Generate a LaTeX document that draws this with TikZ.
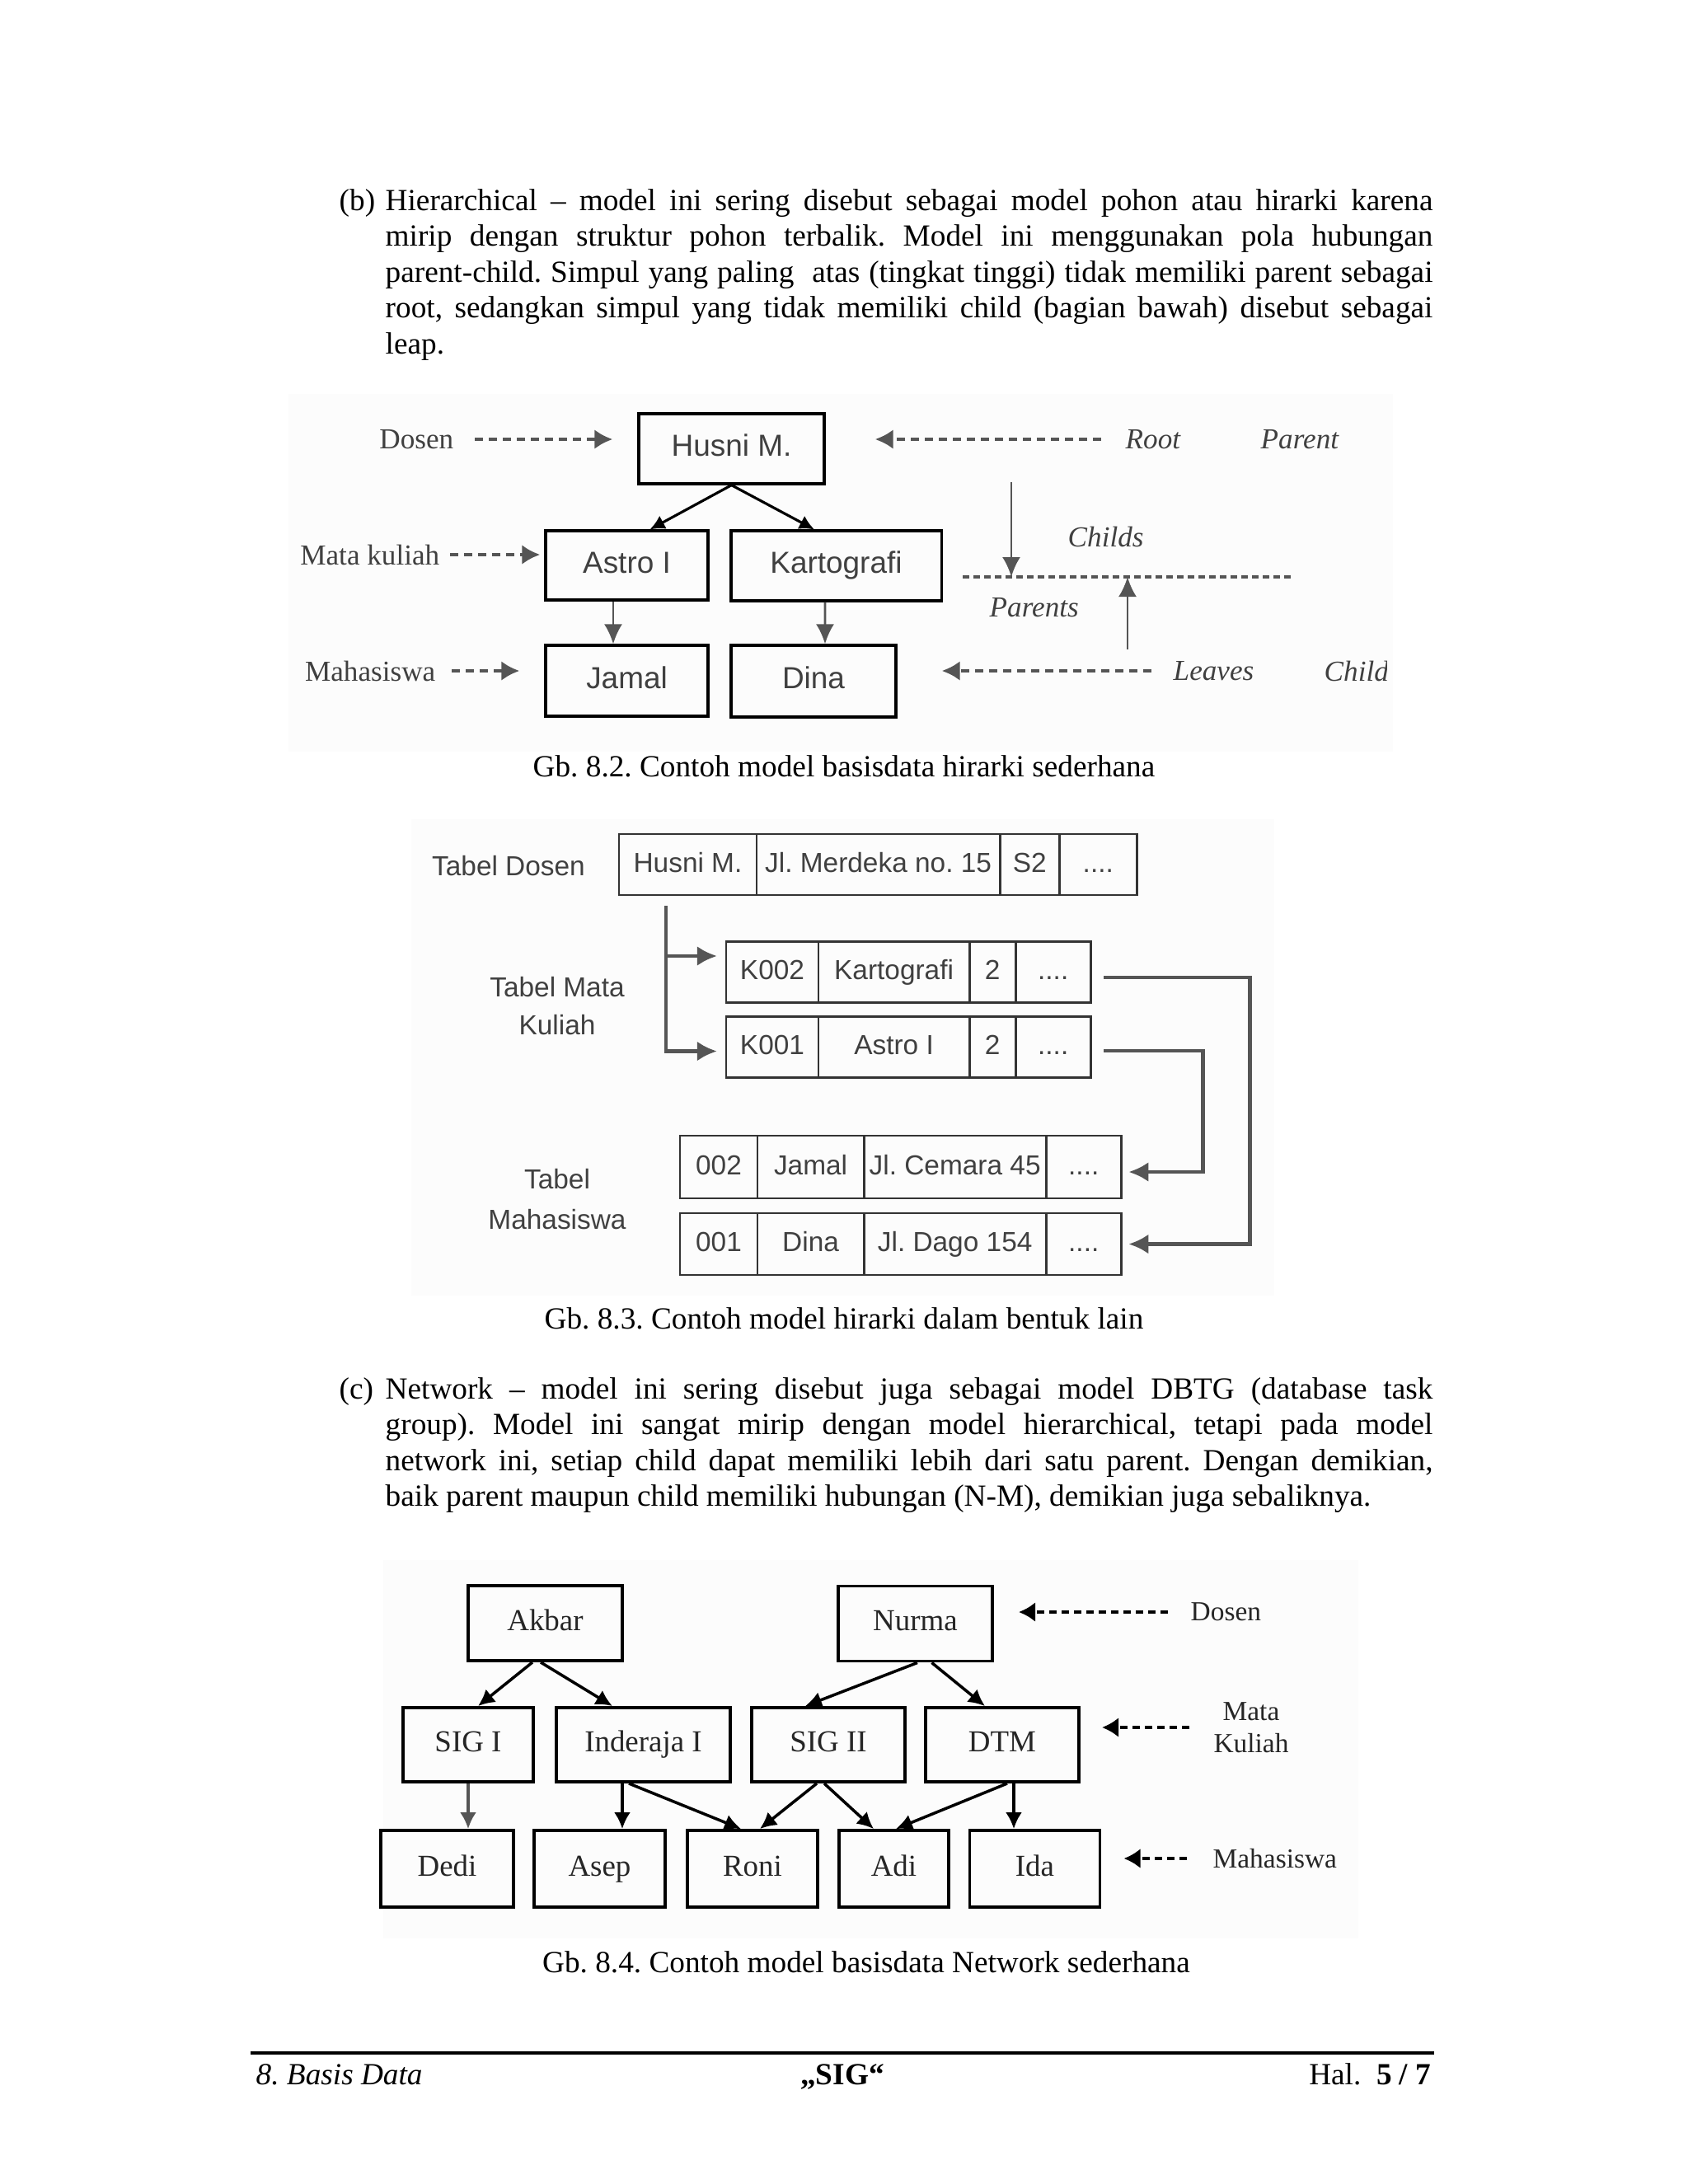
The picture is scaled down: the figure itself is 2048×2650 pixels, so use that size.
\documentclass[tikz,border=0pt]{standalone}
\usepackage{fontspec}
\setmainfont{Liberation Serif}
\setsansfont{Liberation Sans}
\usetikzlibrary{arrows.meta,positioning}
\frenchspacing

\definecolor{abu}{HTML}{555555}
\definecolor{teksabu}{HTML}{404040}
\definecolor{latar}{HTML}{FCFCFC}

% satu baris teks rata kiri-kanan
\newcommand{\baris}[1]{\makebox[12.70cm][s]{#1}}

\tikzset{
  teks/.style={inner sep=0pt, font=\fontsize{10.6}{12.4}\selectfont},
  kotaksatu/.style={draw, line width=0.9pt, inner sep=0pt, text height=0.72em, text depth=0.2em, font=\sffamily\fontsize{10.5}{12}\selectfont, text=teksabu},
  labelsatu/.style={inner sep=0pt, font=\fontsize{10}{12}\selectfont, text=teksabu},
  miring/.style={inner sep=0pt, font=\itshape\fontsize{10}{12}\selectfont, text=teksabu},
  panahhitam/.style={line width=0.9pt, -{Latex[length=0.18cm,width=0.18cm]}},
  panahabu/.style={abu, line width=0.8pt, -{Latex[length=0.24cm,width=0.22cm]}},
  putusabu/.style={abu, line width=1.3pt, dash pattern=on 0.1cm off 0.07cm, -{Latex[length=0.22cm,width=0.24cm]}},
  sel/.style={draw=black!80, line width=0.8pt, inner sep=0pt, outer sep=0pt, minimum height=0.74cm, text height=0.72em, text depth=0.2em, font=\sffamily\fontsize{9.5}{11}\selectfont, text=teksabu},
  labeltabel/.style={inner sep=0pt, font=\sffamily\fontsize{9.5}{13.1}\selectfont, text=teksabu},
  panahtabel/.style={abu, line width=1.4pt, -{Latex[length=0.24cm,width=0.24cm]}},
  kotaktiga/.style={draw, line width=1.1pt, inner sep=0pt, text height=0.7em, text depth=0.2em, font=\fontsize{10.5}{12}\selectfont, text=black!85},
  panahtiga/.style={line width=1pt, -{Latex[length=0.2cm,width=0.2cm]}},
  labeltiga/.style={inner sep=0pt, font=\fontsize{9.5}{11.1}\selectfont, text=black!85},
  putushitam/.style={line width=1.1pt, dash pattern=on 0.09cm off 0.06cm, -{Latex[length=0.2cm,width=0.24cm]}},
}

\begin{document}
\begin{tikzpicture}[x=0.01cm,y=-0.01cm]
  \useasboundingbox (0,0) rectangle (2048,2650);

  % paragraf (b)
  \node[teks, anchor=base west] (pb) at (411,255) {(b)};
  \node[teks, anchor=base west] (b1) at (467,255) {\baris{Hierarchical – model ini sering disebut sebagai model pohon atau hirarki karena}};
  \node[teks, anchor=base west] (b2) at (467,298.5) {\baris{mirip dengan struktur pohon terbalik. Model ini menggunakan pola hubungan}};
  \node[teks, anchor=base west] (b3) at (467,342) {\baris{parent-child. Simpul yang paling~ atas (tingkat tinggi) tidak memiliki parent sebagai}};
  \node[teks, anchor=base west] (b4) at (467,385.5) {\baris{root, sedangkan simpul yang tidak memiliki child (bagian bawah) disebut sebagai}};
  \node[teks, anchor=base west] (b5) at (467,429) {leap.};

  % gambar 8.2
  \fill[latar] (350,478) rectangle (1690,912);
  \node[kotaksatu, minimum width=2.25cm, minimum height=0.85cm] (husni) at (887.5,544.5) {Husni M.};
  \node[kotaksatu, minimum width=1.97cm, minimum height=0.84cm] (astro) at (760.5,686) {Astro I};
  \node[kotaksatu, minimum width=2.55cm, minimum height=0.85cm] (karto) at (1014.5,686.5) {Kartografi};
  \node[kotaksatu, minimum width=1.97cm, minimum height=0.86cm] (jamal) at (760.5,826) {Jamal};
  \node[kotaksatu, minimum width=2.00cm, minimum height=0.87cm] (dina) at (987,826.5) {Dina};

  \draw[panahhitam] (husni.south) -- ([xshift=0.28cm]astro.north);
  \draw[panahhitam] (husni.south) -- ([xshift=-0.265cm]karto.north);
  \draw[panahabu] ([xshift=-0.165cm]astro.south) -- ([xshift=-0.165cm]jamal.north);
  \draw[panahabu] ([xshift=-0.135cm]karto.south) -- ([xshift=0.14cm]dina.north);

  \node[labelsatu, anchor=east] (ldosen) at (551,533) {Dosen};
  \draw[putusabu, shorten <=0.25cm, shorten >=0.30cm] (ldosen.east) -- (ldosen.east -| husni.west);
  \node[labelsatu, anchor=east] (lmatkul) at (534,673) {Mata kuliah};
  \draw[putusabu, shorten <=0.12cm, shorten >=0.05cm] (lmatkul.east) -- (lmatkul.east -| astro.west);
  \node[labelsatu, anchor=east] (lmhs) at (529,814) {Mahasiswa};
  \draw[putusabu, shorten <=0.19cm, shorten >=0.30cm] (lmhs.east) -- (lmhs.east -| jamal.west);

  \node[miring, anchor=west] (lroot) at (1365,533) {Root};
  \draw[putusabu, shorten <=0.29cm, shorten >=0.60cm] (lroot.west) -- (lroot.west -| husni.east);
  \node[miring, anchor=west] (lparent) at (1529,533) {Parent};

  \coordinate (garisA) at (1168,700);
  \coordinate (garisB) at (1570,700);
  \draw[abu, line width=1.2pt, dash pattern=on 0.08cm off 0.05cm] (garisA) -- (garisB);
  \coordinate (turun) at (1227,585);
  \draw[panahabu] (turun) -- (turun |- garisA);
  \coordinate (naik) at (1368,788);
  \draw[panahabu] (naik) -- (naik |- garisA);
  \node[miring, anchor=west] (lchilds) at (1295,651) {Childs};
  \node[miring, anchor=west] (lparents) at (1200,737) {Parents};

  \node[miring, anchor=west] (lleaves) at (1423,814) {Leaves};
  \draw[putusabu, shorten <=0.26cm, shorten >=0.54cm] (lleaves.west) -- (lleaves.west -| dina.east);
  \begin{scope}
    \clip (1590,780) rectangle (1682,850);
    \node[miring, anchor=west] (lchild) at (1606,814) {Child};
  \end{scope}

  \node[teks] (cap1) at (1024,930) {Gb. 8.2. Contoh model basisdata hirarki sederhana};

  % gambar 8.3
  \fill[latar] (499,994) rectangle (1546,1572);
  \node[labeltabel] (ltdosen) at (617,1051) {Tabel Dosen};
  \node[labeltabel, align=center] (ltmatkul) at (676,1221) {Tabel Mata\\Kuliah};
  \node[labeltabel, align=center, font=\sffamily\fontsize{9.5}{13.9}\selectfont] (ltmhs) at (676,1455) {Tabel\\Mahasiswa};

  \node[sel, minimum width=1.67cm] (td1) at (834.5,1049) {Husni M.};
  \node[sel, minimum width=2.95cm, right=0pt of td1] (td2) {Jl. Merdeka no. 15};
  \node[sel, minimum width=0.72cm, right=0pt of td2] (td3) {S2};
  \node[sel, minimum width=0.94cm, right=0pt of td3] (td4) {....};

  \node[sel, minimum width=1.12cm] (ka1) at (937,1179.5) {K002};
  \node[sel, minimum width=1.83cm, right=0pt of ka1] (ka2) {Kartografi};
  \node[sel, minimum width=0.56cm, right=0pt of ka2] (ka3) {2};
  \node[sel, minimum width=0.91cm, right=0pt of ka3] (ka4) {....};

  \node[sel, minimum width=1.12cm] (kb1) at (937,1270.5) {K001};
  \node[sel, minimum width=1.83cm, right=0pt of kb1] (kb2) {Astro I};
  \node[sel, minimum width=0.56cm, right=0pt of kb2] (kb3) {2};
  \node[sel, minimum width=0.91cm, right=0pt of kb3] (kb4) {....};

  \node[sel, minimum width=0.94cm, minimum height=0.76cm] (mj1) at (872,1416) {002};
  \node[sel, minimum width=1.29cm, minimum height=0.76cm, right=0pt of mj1] (mj2) {Jamal};
  \node[sel, minimum width=2.21cm, minimum height=0.76cm, right=0pt of mj2] (mj3) {Jl. Cemara 45};
  \node[sel, minimum width=0.91cm, minimum height=0.76cm, right=0pt of mj3] (mj4) {....};

  \node[sel, minimum width=0.94cm, minimum height=0.75cm] (md1) at (872,1509.5) {001};
  \node[sel, minimum width=1.29cm, minimum height=0.75cm, right=0pt of md1] (md2) {Dina};
  \node[sel, minimum width=2.21cm, minimum height=0.75cm, right=0pt of md2] (md3) {Jl. Dago 154};
  \node[sel, minimum width=0.91cm, minimum height=0.75cm, right=0pt of md3] (md4) {....};

  \draw[panahtabel, shorten <=0.13cm, shorten >=0.11cm] ([xshift=-0.265cm]td1.south) |- ([yshift=0.195cm]ka1.west);
  \draw[panahtabel, shorten <=0.13cm, shorten >=0.11cm] ([xshift=-0.265cm]td1.south) |- ([yshift=-0.05cm]kb1.west);
  \draw[panahtabel, shorten <=0.16cm, shorten >=0.09cm] ([yshift=-0.065cm]ka4.east) -- ++(193,0) |- (md4.east);
  \draw[panahtabel, shorten <=0.16cm, shorten >=0.09cm] ([yshift=-0.045cm]kb4.east) -- ++(136,0) |- ([yshift=-0.06cm]mj4.east);

  \node[teks] (cap2) at (1024,1600) {Gb. 8.3. Contoh model hirarki dalam bentuk lain};

  % paragraf (c)
  \node[teks, anchor=base west] (pc) at (411,1697) {(c)};
  \node[teks, anchor=base west] (c1) at (467,1697) {\baris{Network – model ini sering disebut juga sebagai model DBTG (database task}};
  \node[teks, anchor=base west] (c2) at (467,1740.5) {\baris{group). Model ini sangat mirip dengan model hierarchical, tetapi pada model}};
  \node[teks, anchor=base west] (c3) at (467,1784) {\baris{network ini, setiap child dapat memiliki lebih dari satu parent. Dengan demikian,}};
  \node[teks, anchor=base west] (c4) at (467,1827.5) {baik parent maupun child memiliki hubungan (N-M), demikian juga sebaliknya.};

  % gambar 8.4
  \fill[latar] (465,1893) rectangle (1648,2352);
  \node[kotaktiga, minimum width=1.87cm, minimum height=0.91cm] (akbar) at (661.5,1969.5) {Akbar};
  \node[kotaktiga, minimum width=1.87cm, minimum height=0.91cm] (nurma) at (1110.5,1970) {Nurma};

  \node[kotaktiga, minimum width=1.58cm, minimum height=0.90cm] (sig1) at (568,2117) {SIG I};
  \node[kotaktiga, minimum width=2.11cm, minimum height=0.90cm] (inderaja) at (780.5,2117) {Inderaja I};
  \node[kotaktiga, minimum width=1.86cm, minimum height=0.90cm] (sig2) at (1005,2117) {SIG II};
  \node[kotaktiga, minimum width=1.86cm, minimum height=0.90cm] (dtm) at (1216,2117) {DTM};

  \node[kotaktiga, minimum width=1.61cm, minimum height=0.93cm] (dedi) at (542.5,2267.5) {Dedi};
  \node[kotaktiga, minimum width=1.59cm, minimum height=0.93cm] (asep) at (727.5,2267.5) {Asep};
  \node[kotaktiga, minimum width=1.58cm, minimum height=0.93cm] (roni) at (913,2267.5) {Roni};
  \node[kotaktiga, minimum width=1.33cm, minimum height=0.93cm] (adi) at (1084.5,2267.5) {Adi};
  \node[kotaktiga, minimum width=1.58cm, minimum height=0.93cm] (ida) at (1255.5,2267.5) {Ida};

  \draw[panahtiga] ([xshift=-0.155cm]akbar.south) -- ([xshift=0.12cm]sig1.north);
  \draw[panahtiga] ([xshift=-0.055cm]akbar.south) -- ([xshift=-0.375cm]inderaja.north);
  \draw[panahtiga] ([xshift=0.025cm]nurma.south) -- ([xshift=-0.28cm]sig2.north);
  \draw[panahtiga] ([xshift=0.2cm]nurma.south) -- ([xshift=-0.21cm]dtm.north);

  \draw[panahtiga, abu] (sig1.south) -- (sig1.south |- dedi.north);
  \draw[panahtiga] ([xshift=-0.255cm]inderaja.south) -- ([xshift=-0.255cm]inderaja.south |- asep.north);
  \draw[panahtiga] ([xshift=-0.175cm]inderaja.south) -- ([xshift=-0.14cm]roni.north);
  \draw[panahtiga] ([xshift=-0.14cm]sig2.south) -- ([xshift=0.09cm]roni.north);
  \draw[panahtiga] ([xshift=-0.05cm]sig2.south) -- ([xshift=-0.245cm]adi.north);
  \draw[panahtiga] ([xshift=0.06cm]dtm.south) -- ([xshift=0.025cm]adi.north);
  \draw[panahtiga] ([xshift=0.14cm]dtm.south) -- ([xshift=0.14cm]dtm.south |- ida.north);

  \node[labeltiga, anchor=west] (ldosen3) at (1444,1956) {Dosen};
  \draw[putushitam, shorten <=0.27cm, shorten >=0.30cm] (ldosen3.west) -- (ldosen3.west -| nurma.east);
  \node[labeltiga, align=center] (lmatkul3) at (1518,2096) {Mata\\Kuliah};
  \draw[putushitam, shorten <=0.285cm, shorten >=0.26cm] (lmatkul3.west) -- (lmatkul3.west -| dtm.east);
  \node[labeltiga, anchor=west] (lmhs3) at (1471,2255) {Mahasiswa};
  \draw[putushitam, shorten <=0.31cm, shorten >=0.27cm] (lmhs3.west) -- (lmhs3.west -| ida.east);

  \node[teks] (cap3) at (1051,2381) {Gb. 8.4. Contoh model basisdata Network sederhana};

  % kaki halaman
  \draw[line width=1pt] (304,2491) -- (1740,2491);
  \node[teks, anchor=base west] (kaki1) at (310,2529) {\textit{8. Basis Data}};
  \node[teks, anchor=base] (kaki2) at (1022,2529) {\textbf{„SIG“}};
  \node[teks, anchor=base east] (kaki3) at (1737,2529) {Hal.\ \ \textbf{5 / 7}};
\end{tikzpicture}
\end{document}
